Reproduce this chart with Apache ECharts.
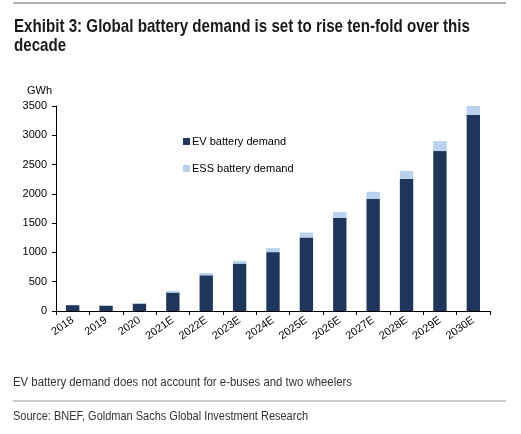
<!DOCTYPE html>
<html>
<head>
<meta charset="utf-8">
<script src="https://cdn.jsdelivr.net/npm/echarts@6/dist/echarts.min.js"></script>
<style>
html,body{margin:0;padding:0;background:#fff;}
#chart{width:521px;height:434px;}
</style>
</head>
<body>
<div id="chart"></div>
<script>
const categories = ['2018','2019','2020','2021E','2022E','2023E','2024E','2025E','2026E','2027E','2028E','2029E','2030E'];
const evDemand = [100, 90, 125, 315, 610, 810, 1005, 1255, 1590, 1915, 2255, 2730, 3350];
const essDemand = [5, 5, 10, 30, 40, 45, 70, 85, 100, 120, 135, 170, 155];
const yTicks = {min: 0, max: 3500, interval: 500};
const titleLines = ['Exhibit 3: Global battery demand is set to rise ten-fold over this', 'decade'];
const noteText = 'EV battery demand does not account for e-buses and two wheelers';
const sourceText = 'Source: BNEF, Goldman Sachs Global Investment Research';

const sans = '"Liberation Sans", Arial, sans-serif';
const ctx = document.createElement('canvas').getContext('2d');
function fitScale(text, font, target) {
  ctx.font = font;
  const w = ctx.measureText(text).width;
  return target / w;
}
const titleFont = 'bold 19px ' + sans;
const titleScale = fitScale(titleLines[0], titleFont, 456);
const footFont = '12px ' + sans;
const noteScale = fitScale(noteText, footFont, 339);
const srcScale = fitScale(sourceText, footFont, 295);

function scaledText(text, font, x, y, sx, fill) {
  return {type: 'text', x: x, y: y, scaleX: sx, originX: 0, originY: 0,
    style: {text: text, font: font, fill: fill}};
}

const chart = echarts.init(document.getElementById('chart'));
chart.setOption({
  animation: false,
  legend: {
    orient: 'vertical', left: 178, top: 131, itemWidth: 7, itemHeight: 7, itemGap: 16,
    icon: 'rect',
    textStyle: {fontFamily: sans, fontSize: 11, color: '#000', padding: [0,0,0,-3]},
    data: ['EV battery demand', 'ESS battery demand']
  },
  grid: {left: 56, right: 31, top: 106, bottom: 123, containLabel: false},
  xAxis: {
    type: 'category', data: categories,
    axisLine: {lineStyle: {color: '#000', width: 1}},
    axisTick: {show: true, alignWithLabel: false, length: 4, lineStyle: {color: '#000'}},
    axisLabel: {rotate: 35, interval: 0, fontFamily: sans, fontSize: 11, color: '#000', margin: 8}
  },
  yAxis: {
    type: 'value', min: yTicks.min, max: yTicks.max, interval: yTicks.interval,
    name: 'GWh', nameLocation: 'end', nameGap: 10,
    nameTextStyle: {fontFamily: sans, fontSize: 11, color: '#000', align: 'right', padding: [0, 4, 0, 0]},
    axisLine: {show: true, lineStyle: {color: '#000', width: 1}},
    axisTick: {show: true, length: 4, lineStyle: {color: '#000'}},
    splitLine: {show: false},
    axisLabel: {fontFamily: sans, fontSize: 11, color: '#000', margin: 9, formatter: v => String(v)}
  },
  series: [
    {name: 'EV battery demand', type: 'bar', stack: 'total', data: evDemand, barWidth: '40%',
     itemStyle: {color: '#1f365c'}},
    {name: 'ESS battery demand', type: 'bar', stack: 'total', data: essDemand, barWidth: '40%',
     itemStyle: {color: '#b9d3ef'}}
  ],
  graphic: [
    {type: 'line', shape: {x1: 13, y1: 3, x2: 506, y2: 3}, style: {stroke: '#999', lineWidth: 1.5}},
    scaledText(titleLines[0], titleFont, 14, 17, titleScale, '#1a1a1a'),
    scaledText(titleLines[1], titleFont, 14, 36, titleScale, '#1a1a1a'),
    scaledText(noteText, footFont, 13, 377, noteScale, '#333'),
    {type: 'line', shape: {x1: 13, y1: 401, x2: 506, y2: 401}, style: {stroke: '#999', lineWidth: 1}},
    scaledText(sourceText, footFont, 13, 411, srcScale, '#333')
  ]
});
</script>
</body>
</html>
